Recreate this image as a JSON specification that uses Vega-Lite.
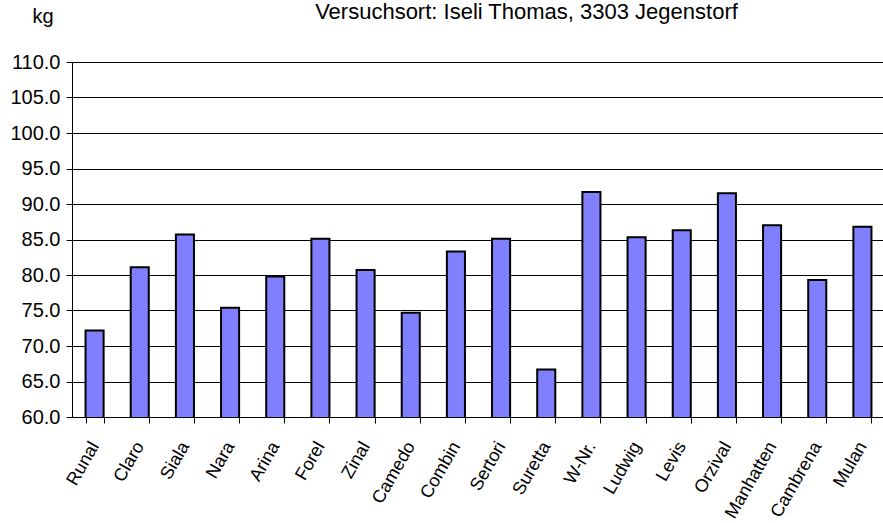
{
  "$schema": "https://vega.github.io/schema/vega-lite/v6.json",
  "autosize": "none",
  "width": 813,
  "height": 355,
  "padding": {"left": 72, "top": 62, "right": 0, "bottom": 106},
  "background": "white",
  "title": {
    "text": "Versuchsort: Iseli Thomas, 3303 Jegenstorf",
    "anchor": "middle",
    "dx": 48,
    "offset": -35,
    "fontSize": 22,
    "font": "Liberation Sans",
    "fontWeight": "normal",
    "color": "black",
    "baseline": "alphabetic"
  },
  "config": {
    "view": {"stroke": null},
    "font": "Liberation Sans"
  },
  "data": {
    "values": [
      {"sorte": "Runal", "kg": 72.2},
      {"sorte": "Claro", "kg": 81.1},
      {"sorte": "Siala", "kg": 85.7},
      {"sorte": "Nara", "kg": 75.4},
      {"sorte": "Arina", "kg": 79.8},
      {"sorte": "Forel", "kg": 85.1},
      {"sorte": "Zinal", "kg": 80.7},
      {"sorte": "Camedo", "kg": 74.7},
      {"sorte": "Combin", "kg": 83.3},
      {"sorte": "Sertori", "kg": 85.1},
      {"sorte": "Suretta", "kg": 66.7},
      {"sorte": "W-Nr.", "kg": 91.7},
      {"sorte": "Ludwig", "kg": 85.3},
      {"sorte": "Levis", "kg": 86.3},
      {"sorte": "Orzival", "kg": 91.5},
      {"sorte": "Manhatten", "kg": 87.0},
      {"sorte": "Cambrena", "kg": 79.3},
      {"sorte": "Mulan", "kg": 86.8}
    ]
  },
  "mark": {
    "type": "bar",
    "fill": "#8080FF",
    "stroke": "black",
    "strokeWidth": 2,
    "clip": true
  },
  "encoding": {
    "x": {
      "field": "sorte",
      "type": "nominal",
      "sort": null,
      "scale": {"paddingInner": 0.6, "paddingOuter": 0.3},
      "axis": {
        "title": null,
        "labelAngle": -60,
        "labelFontSize": 18,
        "labelColor": "black",
        "labelPadding": 20,
        "labelOverlap": false,
        "domainColor": "black",
        "tickColor": "black",
        "tickSize": 6,
        "tickBand": "extent",
        "grid": false
      }
    },
    "y": {
      "field": "kg",
      "type": "quantitative",
      "scale": {"domain": [60, 110], "nice": false, "zero": false},
      "axis": {
        "title": "kg",
        "titleAngle": 0,
        "titleX": -40,
        "titleY": -40,
        "titleAlign": "left",
        "titleBaseline": "alphabetic",
        "titleFontSize": 20,
        "titleFontWeight": "normal",
        "titleColor": "black",
        "values": [60, 65, 70, 75, 80, 85, 90, 95, 100, 105, 110],
        "format": ".1f",
        "labelFontSize": 20,
        "labelColor": "black",
        "labelPadding": 6,
        "domainColor": "black",
        "tickColor": "black",
        "tickSize": 6,
        "grid": true,
        "gridColor": "black",
        "gridOpacity": 1,
        "gridWidth": 1
      }
    }
  }
}
